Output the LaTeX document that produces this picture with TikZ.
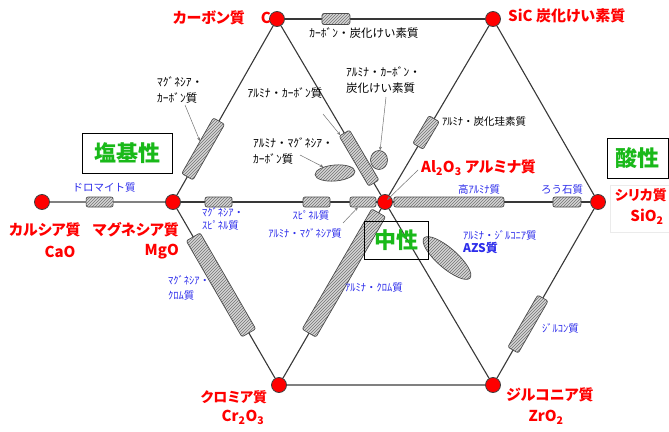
\documentclass[tikz,border=0pt]{standalone}
\usepackage{fontspec}
\setmainfont{Noto Sans CJK JP}
\newfontfamily\pfont{Noto Sans CJK JP}[RawFeature=+palt]
\usetikzlibrary{patterns,shapes.geometric,arrows.meta,calc}
\definecolor{lblue}{RGB}{45,45,235}
\definecolor{lgreen}{RGB}{25,185,25}
\definecolor{lred}{RGB}{255,0,0}
\newcommand\fsz[2]{\fontsize{#1}{#2}\selectfont}
\tikzset{
  elem/.style={circle, fill=lred, draw=black!75, line width=0.8pt, minimum size=15pt, inner sep=0pt},
  edge/.style={draw=black!78, line width=1.1pt},
  edgeg/.style={draw=black!50, line width=1.6pt},
  bar/.style={draw=black!70, line width=0.7pt, rounded corners=2pt, inner sep=0pt, sloped,
              preaction={fill=black!16}, pattern=north east lines, pattern color=black!55},
  blob/.style={ellipse, draw=black!70, line width=0.7pt, inner sep=0pt,
              preaction={fill=black!16}, pattern=north east lines, pattern color=black!55},
  ptr/.style={draw=black!55, line width=0.5pt, -{Stealth[length=3.5pt,width=3pt]}},
  redl/.style={text=lred, inner sep=0pt, font=\pfont\bfseries\fsz{15}{18}},
  blk/.style={text=black, inner sep=0pt, font=\fsz{11.5}{16}, align=left},
  blu/.style={text=lblue, inner sep=0pt, font=\fsz{10.5}{13}, align=left},
  gbox/.style={draw=black, line width=0.9pt, text=lgreen, inner sep=0pt, font=\bfseries\fsz{22}{24}},
}
\begin{document}
\begin{tikzpicture}[x=1pt,y=-1pt]
\useasboundingbox (0,0) rectangle (669,431);
\fill[white] (0,0) rectangle (669,431);

% element nodes
\node[elem] (CaO) at (42,202) {};
\node[elem] (MgO) at (173,202) {};
\node[elem] (C) at (277,19) {};
\node[elem] (SiC) at (493,19) {};
\node[elem] (Al) at (385,202) {};
\node[elem] (Si) at (598,202) {};
\node[elem] (Cr) at (279,385) {};
\node[elem] (Zr) at (493,385) {};

% connectors
\draw[edgeg] (CaO) -- (MgO);
\draw[edge] (MgO) -- (C);
\draw[edge] (C) -- (SiC);
\draw[edge] (SiC) -- (Si);
\draw[edge] (Si) -- (Zr);
\draw[edgeg] (Zr) -- (Cr);
\draw[edge] (Cr) -- (MgO);
\draw[edge] (MgO) -- (Al);
\draw[edge] (Al) -- (Si);
\draw[edge] (C) -- (Al);
\draw[edge] (Al) -- (Zr);
\draw[edge] (SiC) -- (Al);
\draw[edge] (Al) -- (Cr);

% hatched bars
\path (C.center) -- (SiC.center) node[bar, pos=0.273, minimum width=28pt, minimum height=11pt] (b1) {};
\path (CaO.center) -- (MgO.center) node[bar, pos=0.44, minimum width=27pt, minimum height=10pt] (b2) {};
\path (MgO.center) -- (C.center) node[bar, pos=0.29, minimum width=64pt, minimum height=13pt] (b3) {};
\path (MgO.center) -- (Al.center) node[bar, pos=0.215, minimum width=27pt, minimum height=10pt] (b4) {};
\path (MgO.center) -- (Al.center) node[bar, pos=0.677, minimum width=27pt, minimum height=10pt] (b5) {};
\path (MgO.center) -- (Al.center) node[bar, pos=0.896, minimum width=26pt, minimum height=10pt] (b6) {};
\path (Al.center) -- (Si.center) node[bar, pos=0.30, minimum width=110pt, minimum height=10pt] (b7) {};
\path (Al.center) -- (Si.center) node[bar, pos=0.854, minimum width=28pt, minimum height=10pt] (b8) {};
\path (C.center) -- (Al.center) node[bar, pos=0.76, minimum width=58pt, minimum height=12pt] (b9) {};
\path (Al.center) -- (SiC.center) node[bar, pos=0.38, minimum width=32pt, minimum height=12pt] (b10) {};
\path (Al.center) -- (Cr.center) node[bar, pos=0.388, minimum width=139pt, minimum height=16pt] (b11) {};
\path (MgO.center) -- (Cr.center) node[bar, pos=0.453, minimum width=111pt, minimum height=16pt] (b12) {};
\path (Si.center) -- (Zr.center) node[bar, pos=0.667, minimum width=60pt, minimum height=12pt] (b13) {};

% ellipses
\node[blob, minimum width=40pt, minimum height=16pt, rotate=5] (e1) at (335,173) {};
\node[blob, minimum width=17pt, minimum height=19pt] (e2) at (379,160) {};
\node[blob, minimum width=61pt, minimum height=20pt, rotate=-41] (e3) at (447,258) {};

% green boxes
\node[gbox, minimum width=90pt, minimum height=40pt] (gB) at (127,153) {塩基性};
\node[gbox, minimum width=64pt, minimum height=38pt] (gN) at (396,240) {中性};
\node[gbox, minimum width=61pt, minimum height=40pt] (gA) at (637.5,158) {酸性};
\node[draw=black!8, line width=0.6pt, minimum width=59pt, minimum height=47pt, inner sep=0pt] (sbox) at (639.5,208.5) {};

% red labels
\node[redl, anchor=east] (tC) at (271,18) {カーボン質\hspace{16pt}C};
\node[redl, anchor=west] (tSiC) at (508,16) {SiC 炭化けい素質};
\node[redl] (tCa) at (45,230) {カルシア質};
\node[redl] (tCaO) at (60,252) {CaO};
\node[redl, anchor=east] (tMg) at (179,230) {マグネシア質};
\node[redl, anchor=east] (tMgO) at (179,252) {MgO};
\node[redl, anchor=west] (tAl) at (421,168) {Al\textsubscript{2}O\textsubscript{3} アルミナ質};
\node[redl, anchor=east, font=\pfont\bfseries\fsz{14}{17}] (tSi) at (667,195) {シリカ質};
\node[redl] (tSiO) at (647,217) {SiO\textsubscript{2}};
\node[redl, anchor=west] (tZr) at (506,395) {ジルコニア質};
\node[redl] (tZrO) at (546,417) {ZrO\textsubscript{2}};
\node[redl, font=\pfont\bfseries\fsz{14}{17}] (tCr) at (234,397) {クロミア質};
\node[redl] (tCrO) at (243,417) {Cr\textsubscript{2}O\textsubscript{3}};

% black labels
\node[blk] (lCSiC) at (364,33) {ｶｰﾎﾞﾝ・炭化けい素質};
\node[blk, anchor=west] (lMgC) at (157,90) {ﾏｸﾞﾈｼｱ・\\ｶｰﾎﾞﾝ質};
\node[blk] (lAC) at (285,93) {ｱﾙﾐﾅ・ｶｰﾎﾞﾝ質};
\node[blk, anchor=west] (lACS) at (346,80) {ｱﾙﾐﾅ・ｶｰﾎﾞﾝ・\\炭化けい素質};
\node[blk, anchor=west] (lAMC) at (253,151) {ｱﾙﾐﾅ・ﾏｸﾞﾈｼｱ・\\ｶｰﾎﾞﾝ質};
\node[blk, anchor=west, font=\fsz{10.5}{13}] (lASiC) at (442,122) {ｱﾙﾐﾅ・炭化珪素質};

% blue labels
\node[blu] (lDol) at (104,188) {ドロマイト質};
\node[blu, anchor=west] (lMS) at (202,219) {ﾏｸﾞﾈｼｱ・\\ｽﾋﾟﾈﾙ質};
\node[blu] (lSp) at (311,215) {ｽﾋﾟﾈﾙ質};
\node[blu] (lAM) at (305,233) {ｱﾙﾐﾅ・ﾏｸﾞﾈｼｱ質};
\node[blu, anchor=west, font=\fsz{10.5}{15}] (lMCr) at (168,287.5) {ﾏｸﾞﾈｼｱ・\\ｸﾛﾑ質};
\node[blu, anchor=west] (lACr) at (345,288) {ｱﾙﾐﾅ・ｸﾛﾑ質};
\node[blu] (lHA) at (479,190) {高ｱﾙﾐﾅ質};
\node[blu] (lRo) at (562,190) {ろう石質};
\node[blu, anchor=west] (lAZ) at (463,235) {ｱﾙﾐﾅ・ｼﾞﾙｺﾆｱ質};
\node[blu, anchor=west, font=\bfseries\fsz{12}{14}] (lAZS) at (463,248) {AZS質};
\node[blu, anchor=west] (lZc) at (542,328) {ｼﾞﾙｺﾝ質};

% pointers
\coordinate (p1) at (185,105);
\coordinate (p2) at (323,114);
\coordinate (p3) at (300,155);
\coordinate (p4) at (386,97);
\coordinate (p5) at (418,170);
\coordinate (p6) at (343,223);
\draw[ptr] (p1) -- (b3);
\draw[ptr] (p2) -- (b9);
\draw[ptr] (p3) -- (e1);
\draw[ptr] (p4) -- (e2);
\draw[ptr, shorten >=3pt] (p5) -- (Al.center);
\draw[ptr] (p6) -- (b6);
\end{tikzpicture}
\end{document}
